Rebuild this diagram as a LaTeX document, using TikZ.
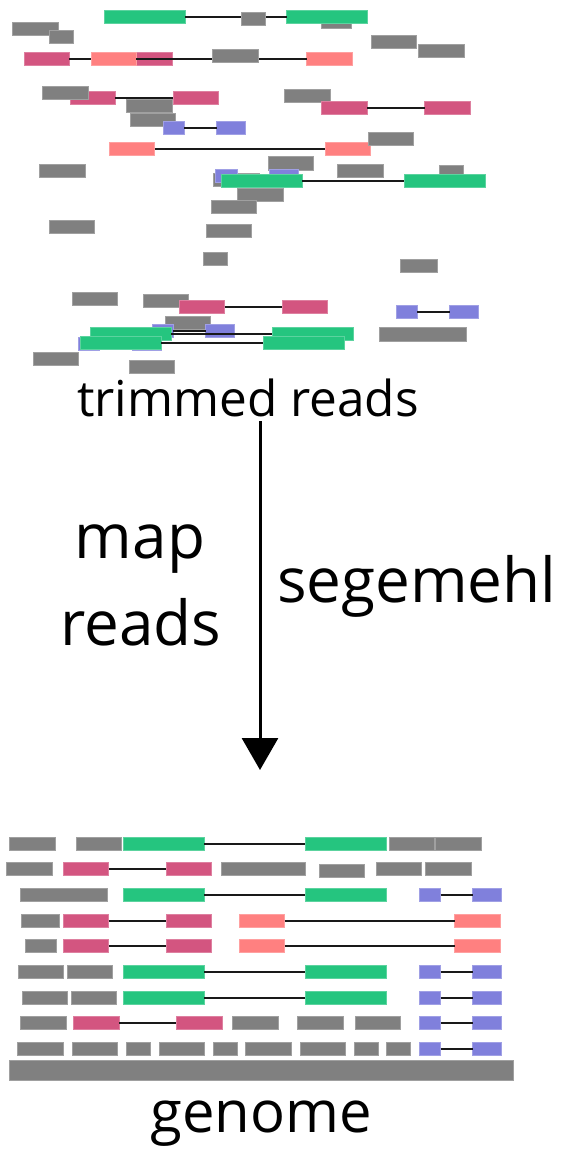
\documentclass[tikz,border=0pt]{standalone}
\usepackage{fontspec}
\setmainfont{Open Sans}
\usetikzlibrary{arrows.meta}

\definecolor{rdgray}{RGB}{128,128,128}
\definecolor{rdgreen}{RGB}{37,197,127}
\definecolor{rdpink}{RGB}{211,85,128}
\definecolor{rdsalmon}{RGB}{255,128,128}
\definecolor{rdblue}{RGB}{128,128,220}

\tikzset{
  readbox/.style={rectangle, inner sep=0pt, outer sep=0pt, line width=0.6pt, anchor=north west},
  gy/.style={readbox, fill=rdgray, draw=rdgray!75!white},
  gn/.style={readbox, fill=rdgreen, draw=rdgreen!75!white},
  pk/.style={readbox, fill=rdpink, draw=rdpink!75!white},
  sm/.style={readbox, fill=rdsalmon, draw=rdsalmon!75!white},
  bl/.style={readbox, fill=rdblue, draw=rdblue!75!white},
  link/.style={draw=black!90, line width=2pt},
  flow/.style={draw=black, line width=3pt, -{Triangle[length=32pt, width=36pt]}},
  lbl/.style={inner sep=0pt, outer sep=0pt, text=black}
}

% \rd{name}{style}{x left}{x right}{y top}{y bottom}
\newcommand{\rd}[6]{\node[#2, minimum width={#4-#3}, minimum height={#6-#5}] (#1) at (#3,#5) {};}
% a paired read: two boxes joined by a line
\newcommand{\pr}[8]{\rd{#1a}{#2}{#3}{#4}{#7}{#8}\rd{#1b}{#2}{#5}{#6}{#7}{#8}\draw[link] (#1a.east) -- (#1b.west);}

\begin{document}
\begin{tikzpicture}[x=1pt, y=-1pt]
\useasboundingbox (0,0) rectangle (564,1149);

% ---------- unmapped, trimmed reads ----------
\rd{t1}{gy}{321.7}{351.7}{16.7}{28.7}
\rd{t2}{gy}{12.7}{58.3}{22.7}{35.7}
\rd{t3}{gy}{49.3}{73}{30}{43}
\pr{t4}{gn}{104}{185}{286.7}{367.7}{10}{23}
\rd{t5}{gy}{241.7}{265.3}{12.3}{25.3}

\rd{t6}{gy}{371}{416.3}{35.7}{48.7}
\rd{t7}{gy}{418.7}{464.3}{44.7}{57.7}
\pr{t8}{pk}{24}{69.3}{127.3}{172.3}{52.3}{65.3}
\pr{t9}{sm}{91}{136.3}{306.7}{352.3}{52.3}{65.3}
\rd{t10}{gy}{212.3}{258}{49}{62}

\pr{t11}{pk}{70}{115.3}{173}{218.3}{91.7}{104.7}
\rd{t12}{gy}{42.7}{88}{86.3}{99.3}
\rd{t13}{gy}{126.7}{172}{99}{112}
\rd{t14}{gy}{284.3}{330.3}{89.3}{102}
\pr{t15}{pk}{321.7}{367.3}{424.7}{470}{101}{114}
\rd{t16}{gy}{130.3}{175.7}{113.7}{126.7}
\pr{t17}{bl}{163}{184}{216.7}{245}{121.7}{134.7}

\pr{t18}{sm}{109.3}{154.7}{325}{370.3}{142}{155}
\rd{t19}{gy}{368}{413.7}{132.3}{145.3}
\rd{t20}{gy}{39.7}{85.3}{164}{177}
\rd{t21}{gy}{268.3}{313.7}{156.7}{170}
\rd{t22}{gy}{337.3}{383}{164}{177}
\rd{t23}{gy}{439.3}{463.3}{165.7}{178.7}
\rd{t24}{gy}{213.7}{259.2}{173.7}{186.7}
\pr{t25}{bl}{215.7}{237}{269}{298}{169.7}{182.7}
\pr{t26}{gn}{221}{302.3}{404}{485}{174}{187}
\rd{t27}{gy}{237.7}{283}{188.7}{201.7}
\rd{t28}{gy}{211}{256.7}{200}{213}

\rd{t29}{gy}{49.3}{94.7}{220.7}{233.7}
\rd{t30}{gy}{206.3}{251.7}{224.3}{237.3}
\rd{t31}{gy}{203.3}{227}{252}{265}
\rd{t32}{gy}{400.3}{437.7}{259.3}{272}

\rd{t33}{gy}{72.3}{117.7}{292.3}{305.3}
\rd{t34}{gy}{143}{188.7}{294.3}{307.3}
\pr{t35}{pk}{179.3}{224.7}{282.3}{327.7}{300.5}{313.5}
\rd{t36}{gy}{165}{210.3}{316}{329}
\pr{t37}{bl}{152.3}{173.3}{205.7}{234.3}{324.7}{337.3}
\pr{t38}{bl}{78.7}{99.7}{132.3}{161}{337.3}{350}
\pr{t39}{gn}{90}{171}{272.3}{353.3}{327}{340}
\pr{t40}{gn}{80.7}{161.3}{263.3}{344}{336.3}{349}
\rd{t41}{gy}{33}{78.3}{352.7}{365.7}
\rd{t42}{gy}{129}{174.3}{360.3}{373.3}
\rd{t43}{gy}{379.3}{466.3}{327.7}{341}
\pr{t44}{bl}{396.3}{417.3}{449.7}{478.3}{305.3}{318.3}

\node[lbl, font=\fontsize{49.5}{49.5}\selectfont, anchor=base] (trimmed) at (248,416.7) {trimmed reads};

% ---------- mapping step ----------
\coordinate (flowstart) at (260,421);
\coordinate (flowend) at (260,770);
\draw[flow] (flowstart) -- (flowend);
\node[lbl, font=\fontsize{62}{62}\selectfont, anchor=base] (maplbl) at (140,558.3) {map};
\node[lbl, font=\fontsize{62}{62}\selectfont, anchor=base] (readslbl) at (141,645) {reads};
\node[lbl, font=\fontsize{62}{62}\selectfont, anchor=base west] (toollbl) at (277,602.7) {segemehl};

% ---------- reads mapped onto the genome ----------
% row 1
\rd{m1}{gy}{9.3}{55}{837.3}{850.3}
\rd{m2}{gy}{76}{121.3}{837.3}{850.3}
\pr{m3}{gn}{123}{204}{305.3}{386.7}{837.3}{850.3}
\rd{m4}{gy}{389.3}{434.7}{837.3}{850.3}
\rd{m5}{gy}{435.7}{481}{837.3}{850.3}
% row 2
\rd{m6}{gy}{6.7}{52.3}{862.7}{875.7}
\pr{m7}{pk}{63.3}{108.7}{166}{211.3}{862.7}{875.7}
\rd{m8}{gy}{221.7}{305.3}{862.7}{875.7}
\rd{m9}{gy}{319.3}{364.7}{864}{877}
\rd{m10}{gy}{376.3}{421.7}{862.7}{875.7}
\rd{m11}{gy}{425.3}{471}{862.7}{875.7}
% row 3
\rd{m12}{gy}{20.3}{107.7}{888.5}{901.5}
\pr{m13}{gn}{123}{204}{305.3}{386.7}{888.5}{901.5}
\pr{m14}{bl}{419.3}{440.7}{472.7}{501.3}{888.5}{901.5}
% row 4
\rd{m15}{gy}{21.7}{59.3}{914.3}{927.3}
\pr{m16}{pk}{63.3}{108.7}{166}{211.3}{914.3}{927.3}
\pr{m17}{sm}{239}{284.7}{454.7}{500.7}{914.3}{927.3}
% row 5
\rd{m18}{gy}{25.7}{56}{939.7}{952.7}
\pr{m19}{pk}{63.3}{108.7}{166}{211.3}{939.7}{952.7}
\pr{m20}{sm}{239}{284.7}{454.7}{500.7}{939.7}{952.7}
% row 6
\rd{m21}{gy}{18}{63.3}{965.3}{978.3}
\rd{m22}{gy}{67.3}{112.7}{965.3}{978.3}
\pr{m23}{gn}{123}{204}{305.3}{386.7}{965.3}{978.3}
\pr{m24}{bl}{419.3}{440.7}{472.7}{501.3}{965.3}{978.3}
% row 7
\rd{m25}{gy}{22}{67.3}{991.3}{1004.3}
\rd{m26}{gy}{71.3}{116.7}{991.3}{1004.3}
\pr{m27}{gn}{123}{204}{305.3}{386.7}{991.3}{1004.3}
\pr{m28}{bl}{419.3}{440.7}{472.7}{501.3}{991.3}{1004.3}
% row 8
\rd{m29}{gy}{20.7}{66}{1016.7}{1029.7}
\pr{m30}{pk}{73.7}{119}{176.3}{222}{1016.7}{1029.7}
\rd{m31}{gy}{232.7}{278.3}{1016.7}{1029.7}
\rd{m32}{gy}{297.7}{343}{1016.7}{1029.7}
\rd{m33}{gy}{355}{400.3}{1016.7}{1029.7}
\pr{m34}{bl}{419.3}{440.7}{472.7}{501.3}{1016.7}{1029.7}
% row 9
\rd{m35}{gy}{17.7}{63.3}{1042.3}{1055.3}
\rd{m36}{gy}{72}{117.3}{1042.3}{1055.3}
\rd{m37}{gy}{126.3}{150}{1042.3}{1055.3}
\rd{m38}{gy}{159}{204.3}{1042.3}{1055.3}
\rd{m39}{gy}{213.3}{237}{1042.3}{1055.3}
\rd{m40}{gy}{245.7}{291}{1042.3}{1055.3}
\rd{m41}{gy}{300}{345.3}{1042.3}{1055.3}
\rd{m42}{gy}{354.3}{378}{1042.3}{1055.3}
\rd{m43}{gy}{386.7}{410.3}{1042.3}{1055.3}
\pr{m44}{bl}{419.3}{440.7}{472.7}{501.3}{1042.3}{1055.3}

% genome
\rd{genomebar}{gy}{9}{513.3}{1060.7}{1080}
\node[lbl, font=\fontsize{58}{58}\selectfont, anchor=base] (genomelbl) at (261,1132) {genome};
\end{tikzpicture}
\end{document}
